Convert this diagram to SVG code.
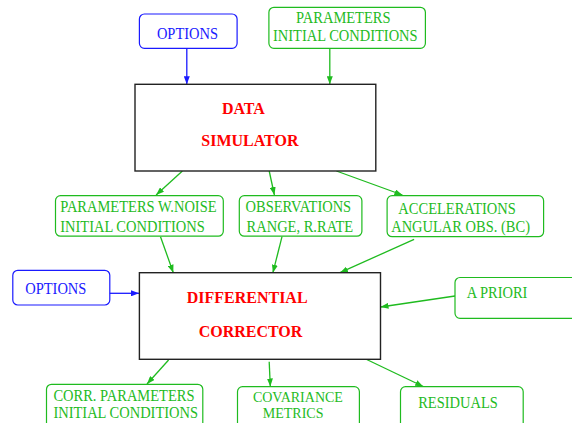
<svg xmlns="http://www.w3.org/2000/svg" width="572" height="423" viewBox="0 0 572 423">
<style>
.t{font-family:"Liberation Serif","Times New Roman",serif;font-size:14.5px;transform-box:fill-box;transform-origin:50% 80%;transform:scaleY(1.12)}
.ns{transform:none;font-size:14px}
.b{font-family:"Liberation Serif","Times New Roman",serif;font-size:16px;font-weight:bold;fill:#ff0000;transform-box:fill-box;transform-origin:50% 80%;transform:scaleY(1.1)}
.g{fill:#1fbb1f}
.bl{fill:#1a1aff}
.gbox{fill:none;stroke:#1fbb1f;stroke-width:1.2}
.bbox{fill:none;stroke:#1a1aff;stroke-width:1.2}
.main{fill:#fff;stroke:#222;stroke-width:1.4}
.gc{stroke:#1fbb1f;stroke-width:1.3;fill:none;marker-end:url(#ag)}
.bc{stroke:#1a1aff;stroke-width:1.3;fill:none;marker-end:url(#ab)}
</style>
<defs>
<marker id="ag" markerUnits="userSpaceOnUse" markerWidth="8" markerHeight="6" refX="8" refY="3" orient="auto"><path d="M0,0 L8,3 L0,6 Z" fill="#1fbb1f"/></marker>
<marker id="ab" markerUnits="userSpaceOnUse" markerWidth="8" markerHeight="6" refX="8" refY="3" orient="auto"><path d="M0,0 L8,3 L0,6 Z" fill="#1a1aff"/></marker>
</defs>
<rect width="572" height="423" fill="#fff"/>
<g id="connectors">
<line class="bc" x1="186.8" y1="48.3" x2="186.8" y2="84.3"/>
<line class="gc" x1="329.8" y1="48.3" x2="329.8" y2="84.3"/>
<line class="gc" x1="182.4" y1="171" x2="156.1" y2="195"/>
<line class="gc" x1="269.2" y1="171" x2="274.4" y2="195"/>
<line class="gc" x1="336.4" y1="171" x2="402.4" y2="195"/>
<line class="gc" x1="160.5" y1="236.7" x2="173.3" y2="272.7"/>
<line class="gc" x1="282" y1="236.7" x2="272.9" y2="272.7"/>
<line class="gc" x1="414.1" y1="239.3" x2="340" y2="272.7"/>
<line class="bc" x1="109.8" y1="293.3" x2="139" y2="293.3"/>
<line class="gc" x1="455" y1="296" x2="380.5" y2="307"/>
<line class="gc" x1="168.6" y1="360" x2="147" y2="384"/>
<line class="gc" x1="269.2" y1="361.7" x2="270.3" y2="386.5"/>
<line class="gc" x1="366.7" y1="359.5" x2="423.2" y2="386.5"/>
</g>
<g id="options-top">
<rect class="bbox" x="139.4" y="14" width="97.7" height="34.3" rx="5"/>
<text class="t bl" x="187.5" y="39" text-anchor="middle">OPTIONS</text>
</g>
<g id="params-top">
<rect class="gbox" x="268.9" y="7.3" width="156.5" height="41" rx="5"/>
<text class="t g" x="343.3" y="23" text-anchor="middle">PARAMETERS</text>
<text class="t g" x="345.3" y="41" text-anchor="middle">INITIAL CONDITIONS</text>
</g>
<g id="data-simulator">
<rect class="main" x="135" y="84.3" width="240.8" height="86.7"/>
<text class="b" x="243.4" y="114" text-anchor="middle">DATA</text>
<text class="b" x="249.9" y="146" text-anchor="middle">SIMULATOR</text>
</g>
<g id="params-noise">
<rect class="gbox" x="55.5" y="195.7" width="167.8" height="40.5" rx="5"/>
<text class="t g" x="60.2" y="212.3">PARAMETERS W.NOISE</text>
<text class="t g" x="60.2" y="232.3">INITIAL CONDITIONS</text>
</g>
<g id="observations">
<rect class="gbox" x="239.3" y="195.7" width="122.6" height="40.5" rx="5"/>
<text class="t g" x="298.4" y="212.3" text-anchor="middle">OBSERVATIONS</text>
<text class="t g" x="299.9" y="232.3" text-anchor="middle">RANGE, R.RATE</text>
</g>
<g id="accelerations">
<rect class="gbox" x="387.1" y="195.7" width="156.5" height="41" rx="5"/>
<text class="t g" x="457.1" y="214" text-anchor="middle">ACCELERATIONS</text>
<text class="t g" x="460.6" y="232.3" text-anchor="middle">ANGULAR OBS. (BC)</text>
</g>
<g id="options-left">
<rect class="bbox" x="12.8" y="270.3" width="97" height="34.7" rx="5"/>
<text class="t bl" x="55.8" y="294" text-anchor="middle">OPTIONS</text>
</g>
<g id="differential-corrector">
<rect class="main" x="139.4" y="272.7" width="241.1" height="86.6"/>
<text class="b" x="247.2" y="302.7" text-anchor="middle">DIFFERENTIAL</text>
<text class="b" x="250.5" y="337.3" text-anchor="middle">CORRECTOR</text>
</g>
<g id="a-priori">
<rect class="gbox" x="455" y="277.5" width="130" height="40.8" rx="5"/>
<text class="t g" x="466.7" y="297.7">A PRIORI</text>
</g>
<g id="corr-params">
<rect class="gbox" x="46.5" y="384.3" width="156.3" height="50" rx="5"/>
<text class="t g" x="53.4" y="400.5">CORR. PARAMETERS</text>
<text class="t g" x="53.4" y="417.7">INITIAL CONDITIONS</text>
</g>
<g id="covariance">
<rect class="gbox" x="237.5" y="386.7" width="121.9" height="50" rx="5"/>
<text class="t ns g" x="297.9" y="402.3" text-anchor="middle">COVARIANCE</text>
<text class="t ns g" x="293.1" y="417.6" text-anchor="middle">METRICS</text>
</g>
<g id="residuals">
<rect class="gbox" x="400.5" y="386.7" width="122.7" height="50" rx="5"/>
<text class="t g" x="458" y="408.3" text-anchor="middle">RESIDUALS</text>
</g>
</svg>
